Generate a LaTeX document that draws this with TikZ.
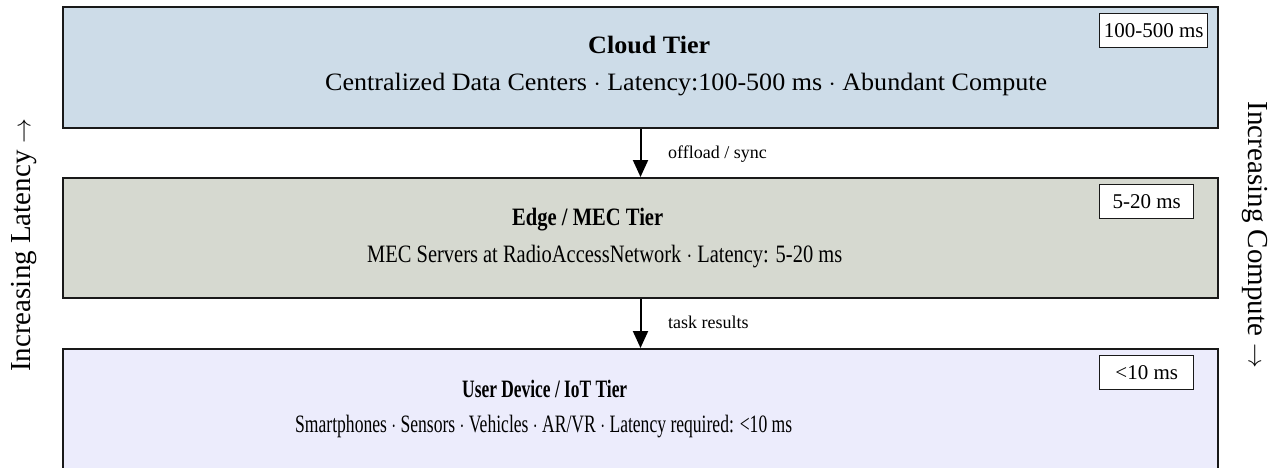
\documentclass[tikz,border=0pt]{standalone}
\usepackage{fontspec}
\setmainfont{Liberation Serif}
\usepackage{graphicx}
\usetikzlibrary{arrows.meta}
\definecolor{cloudfill}{RGB}{205,220,232}
\definecolor{edgefill}{RGB}{214,217,208}
\definecolor{userfill}{RGB}{236,236,252}
\definecolor{linec}{RGB}{25,25,25}
\newcommand{\fitw}[2]{\resizebox{#1pt}{\height}{#2}}
\begin{document}
\begin{tikzpicture}[x=1pt,y=-1pt,
  tier/.style={draw=linec, line width=2pt, minimum width=1155pt, inner sep=0pt, anchor=north west},
  badge/.style={draw=linec, line width=1.4pt, fill=white, minimum height=34pt, inner sep=0pt, anchor=north west, font=\fontsize{21}{24}\selectfont},
  ttl/.style={anchor=base west, inner sep=0pt, font=\fontsize{25}{30}\selectfont\bfseries},
  sub/.style={anchor=base west, inner sep=0pt, font=\fontsize{25}{30}\selectfont},
  lbl/.style={anchor=base west, inner sep=0pt, font=\fontsize{18}{21}\selectfont},
  side/.style={inner sep=0pt, font=\fontsize{29}{34}\selectfont},
  arr/.style={draw=black, line width=2pt, -{Triangle[length=17pt,width=15pt]}}
]
\useasboundingbox (0,0) rectangle (1276,467);
\clip (0,0) rectangle (1276,467);

\node[tier, fill=cloudfill, minimum height=121pt] (cloud) at (62,6) {};
\node[tier, fill=edgefill, minimum height=120pt] (edge) at (62,177) {};
\node[tier, fill=userfill, minimum height=150pt] (user) at (62,348) {};

\node[ttl] (cloudt) at (588,53) {\fitw{122}{Cloud Tier}};
\node[sub] (clouds) at (325,90) {\fitw{722}{Centralized Data Centers $\cdot$ Latency:100-500 ms $\cdot$ Abundant Compute}};
\node[ttl] (edget) at (512,225) {\fitw{151}{Edge / MEC Tier}};
\node[sub] (edges) at (367,262) {\fitw{475}{MEC Servers at RadioAccessNetwork $\cdot$ Latency: 5-20 ms}};
\node[ttl] (usert) at (462,397) {\fitw{165}{User Device / IoT Tier}};
\node[sub] (users) at (295,432) {\fitw{497}{Smartphones $\cdot$ Sensors $\cdot$ Vehicles $\cdot$ AR/VR $\cdot$ Latency required: <10 ms}};

\node[badge, minimum width=108pt] (cloudb) at (1099,13) {100-500 ms};
\node[badge, minimum width=94pt] (edgeb) at (1099,184) {5-20 ms};
\node[badge, minimum width=94pt] (userb) at (1099,355) {<10 ms};

\draw[arr] (cloud.south) -- (edge.north);
\draw[arr] (edge.south) -- (user.north);
\node[lbl] (l1) at (668,158) {offload / sync};
\node[lbl] (l2) at (668,328) {task results};

\node[side, rotate=90] (lat) at (24,245) {Increasing Latency $\rightarrow$};
\node[side, rotate=-90] (comp) at (1255,235) {Increasing Compute $\rightarrow$};
\end{tikzpicture}
\end{document}
